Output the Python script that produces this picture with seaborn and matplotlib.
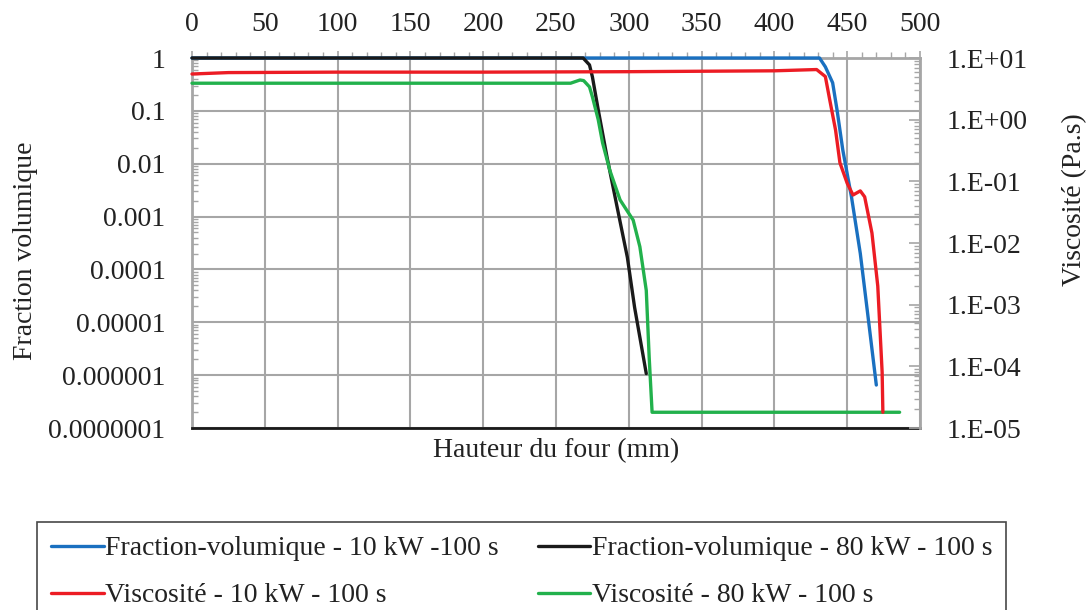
import matplotlib
matplotlib.use('Agg')
import matplotlib.pyplot as plt
import seaborn as sns
from matplotlib.ticker import FixedLocator, FuncFormatter, LogLocator, NullFormatter, MultipleLocator

# ---- data ----
x_frac_10 = [0, 100, 200, 300, 400, 431, 435, 440, 443, 447, 453, 459, 464, 470]
y_frac_10 = [1, 1, 1, 1, 1, 1, 0.68, 0.34, 0.105, 0.018, 0.0023, 2.0e-4, 1.5e-5, 6.5e-7]

x_frac_80 = [0, 100, 200, 268.6, 273, 275, 279, 285, 292, 299, 304, 312]
y_frac_80 = [1, 1, 1, 1, 0.74, 0.44, 0.105, 0.0135, 0.0015, 1.7e-4, 1.9e-5, 1.07e-6]

x_visc_10 = [0, 25, 100, 200, 300, 400, 429, 435, 438, 442, 445, 450, 454, 459, 462, 467, 471, 474, 474.5]
y_visc_10 = [5.5, 5.8, 5.9, 5.9, 6.0, 6.2, 6.5, 5.0, 2.1, 0.68, 0.2, 0.093, 0.06, 0.07, 0.056, 0.0145, 0.002, 8e-5, 1.8e-5]

x_visc_80 = [0, 100, 200, 260, 266.5, 269, 273, 275, 279, 282, 287, 294, 303, 307.6, 312, 314, 316, 486]
y_visc_80 = [3.9, 3.9, 3.9, 3.9, 4.4, 4.3, 3.4, 2.35, 1.0, 0.42, 0.15, 0.05, 0.0235, 0.0087, 0.0017, 1.4e-4, 1.8e-5, 1.8e-5]

x_ticks = [0, 50, 100, 150, 200, 250, 300, 350, 400, 450, 500]
left_ticks = [1e-7, 1e-6, 1e-5, 1e-4, 1e-3, 1e-2, 1e-1, 1]
left_tick_labels = ['0.0000001', '0.000001', '0.00001', '0.0001', '0.001', '0.01', '0.1', '1']
right_ticks = [1e-5, 1e-4, 1e-3, 1e-2, 1e-1, 1, 10]
right_tick_labels = ['1.E-05', '1.E-04', '1.E-03', '1.E-02', '1.E-01', '1.E+00', '1.E+01']

labels = ['Fraction-volumique - 10 kW -100 s', 'Fraction-volumique - 80 kW - 100 s',
          'Viscosité - 10 kW - 100 s', 'Viscosité - 80 kW - 100 s']
colors = ['#1a70c0', '#1a1a1a', '#ec1c24', '#22b14c']

# ---- style ----
sns.set_style('white')
plt.rcParams['font.family'] = ['Liberation Serif', 'DejaVu Serif']
GRAY = '#a6a6a6'
TXT = '#222222'
FS = 20

fig = plt.figure(figsize=(10.87, 6.10), dpi=100)
ax = fig.add_axes([192 / 1087, 1 - 428 / 610, 728 / 1087, 370 / 610])
ax2 = ax.twinx()

lw = 2.4
kw = dict(lw=lw, sort=False, estimator=None, legend=False, zorder=3)
sns.lineplot(x=x_frac_10, y=y_frac_10, ax=ax, color=colors[0], label=labels[0], **kw)
sns.lineplot(x=x_frac_80, y=y_frac_80, ax=ax, color=colors[1], label=labels[1], **kw)
sns.lineplot(x=x_visc_80, y=y_visc_80, ax=ax2, color=colors[3], label=labels[3], **kw)
sns.lineplot(x=x_visc_10, y=y_visc_10, ax=ax2, color=colors[2], label=labels[2], **kw)
for a in (ax, ax2):
    for ln in a.get_lines():
        ln.set_clip_on(False)

ax.set_yscale('log')
ax2.set_yscale('log')
ax.set_xlim(0, 500)
ax.set_ylim(1e-7, 1)
ax2.set_ylim(1e-5, 10)

# x axis on top
ax.xaxis.set_ticks_position('top')
ax.xaxis.set_label_position('bottom')
ax.xaxis.set_major_locator(FixedLocator(x_ticks))
ax.xaxis.set_minor_locator(MultipleLocator(10))
ax.tick_params(axis='x', which='major', direction='out', length=5, width=1.2, color=GRAY,
               labelsize=FS, pad=10, labelcolor=TXT)
ax.tick_params(axis='x', which='minor', direction='out', length=4, width=1.0, color=GRAY)

# left y
ax.yaxis.set_major_locator(FixedLocator(left_ticks))
ax.yaxis.set_major_formatter(FuncFormatter(lambda v, p: dict(zip(left_ticks, left_tick_labels)).get(v, '')))
ax.yaxis.set_minor_locator(LogLocator(base=10, subs=range(2, 10), numticks=50))
ax.yaxis.set_minor_formatter(NullFormatter())
ax.tick_params(axis='y', which='major', direction='in', length=8, width=1.2, color=GRAY,
               labelsize=FS, pad=19, labelcolor=TXT)
ax.tick_params(axis='y', which='minor', direction='in', length=4, width=1.0, color=GRAY)

# right y
ax2.yaxis.set_major_locator(FixedLocator(right_ticks))
ax2.yaxis.set_major_formatter(FuncFormatter(lambda v, p: dict(zip(right_ticks, right_tick_labels)).get(v, '')))
ax2.yaxis.set_minor_locator(LogLocator(base=10, subs=range(2, 10), numticks=50))
ax2.yaxis.set_minor_formatter(NullFormatter())
ax2.tick_params(axis='y', which='major', direction='in', length=8, width=1.2, color=GRAY,
                labelsize=FS, pad=19, labelcolor=TXT)
ax2.tick_params(axis='y', which='minor', direction='in', length=4, width=1.0, color=GRAY)

# grid
ax.set_axisbelow(True)
ax.grid(True, which='major', axis='both', color=GRAY, lw=1.5)
ax2.grid(False)

# spines
for s in ['left', 'top']:
    ax.spines[s].set_color(GRAY)
    ax.spines[s].set_linewidth(2)
ax.spines['bottom'].set_color('#1a1a1a')
ax.spines['bottom'].set_linewidth(2)
ax.spines['right'].set_visible(False)
for s in ['left', 'top', 'bottom']:
    ax2.spines[s].set_visible(False)
ax2.spines['right'].set_color(GRAY)
ax2.spines['right'].set_linewidth(2)

# axis labels
ax.set_xlabel('Hauteur du four (mm)', fontsize=FS, color=TXT)
ax.xaxis.label.set_verticalalignment('center')
ax.xaxis.set_label_coords(0.5, -0.062)
ax.set_ylabel('Fraction volumique', fontsize=FS, color=TXT)
ax.yaxis.label.set_verticalalignment('center')
ax.yaxis.set_label_coords(-0.229, 0.478)
ax2.set_ylabel('Viscosité (Pa.s)', fontsize=FS, color=TXT)
ax2.yaxis.label.set_verticalalignment('center')
ax2.yaxis.set_label_coords(1.212, 0.616)

# legend (column-major fill: blue, red | black, green)
h1, l1 = ax.get_legend_handles_labels()
h2, l2 = ax2.get_legend_handles_labels()
hd = dict(zip(l1 + l2, h1 + h2))
order = [labels[0], labels[2], labels[1], labels[3]]
leg = fig.legend([hd[k] for k in order], order, loc='upper left',
                 bbox_to_anchor=(37 / 1087, 1 - 522 / 610), ncol=2, frameon=True,
                 fancybox=False, edgecolor='#1a1a1a', fontsize=FS, handlelength=1.9,
                 handletextpad=0.05, columnspacing=1.4, borderpad=0.5, labelspacing=0.78,
                 borderaxespad=0)
leg.get_frame().set_linewidth(1.2)
for t in leg.get_texts():
    t.set_color(TXT)

fig.savefig('out.png', dpi=100)
